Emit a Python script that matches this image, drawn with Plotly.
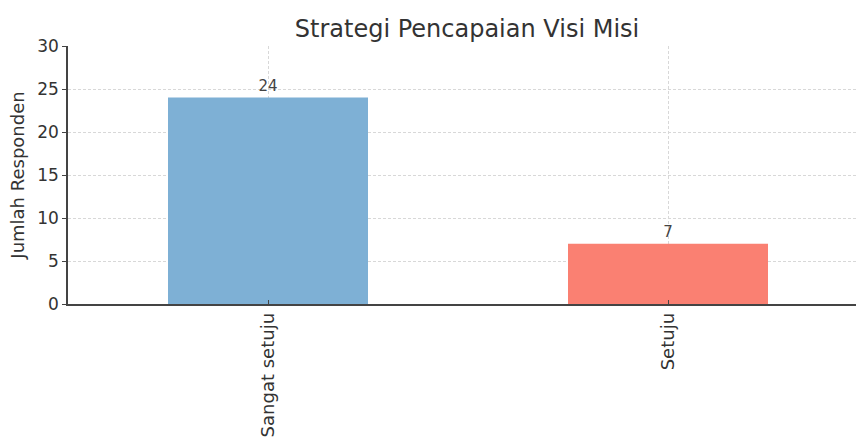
import plotly.graph_objects as go

categories = ["Sangat setuju", "Setuju"]
values = [24, 7]
bar_colors = ["#7EB0D5", "#FA8072"]
y_ticks = [0, 5, 10, 15, 20, 25, 30]

fig = go.Figure(go.Bar(
    x=categories, y=values, width=0.5,
    marker=dict(color=bar_colors, line=dict(width=0)),
    text=[str(v) for v in values], textposition="outside",
    textfont=dict(size=15, color="#444444", family="DejaVu Sans"),
    cliponaxis=False,
))

fig.update_layout(
    width=856, height=437,
    margin=dict(l=68, r=0, t=46, b=133, autoexpand=False),
    paper_bgcolor="white", plot_bgcolor="white",
    font=dict(family="DejaVu Sans", color="#333333"),
    title=dict(text="Strategi Pencapaian Visi Misi", x=467/856, xanchor="center",
               y=1 - 29/437, yanchor="middle", font=dict(size=24, color="#333333")),
    showlegend=False,
)
fig.update_xaxes(
    range=[-0.5, 1.47], tickangle=-90, tickfont=dict(size=18, color="#333333"),
    showline=True, linecolor="#444444", linewidth=1.5,
    ticks="inside", ticklen=4, tickcolor="#444444",
    showgrid=True, gridcolor="#d8d8d8", griddash="3px,2px", gridwidth=1,
    layer="above traces", automargin=False,
)
fig.update_yaxes(
    range=[0, 30], tickvals=y_ticks, tickfont=dict(size=17, color="#333333"),
    showline=True, linecolor="#444444", linewidth=1.5,
    ticks="outside", ticklen=4, tickcolor="#444444",
    showgrid=True, gridcolor="#d8d8d8", griddash="3px,2px", gridwidth=1,
    zeroline=False, layer="above traces", automargin=False,
    title=dict(text="Jumlah Responden", font=dict(size=18, color="#333333"), standoff=8),
)

fig.write_html("out.html", config={"displayModeBar": False},
               post_script="document.body.style.margin='0';")
